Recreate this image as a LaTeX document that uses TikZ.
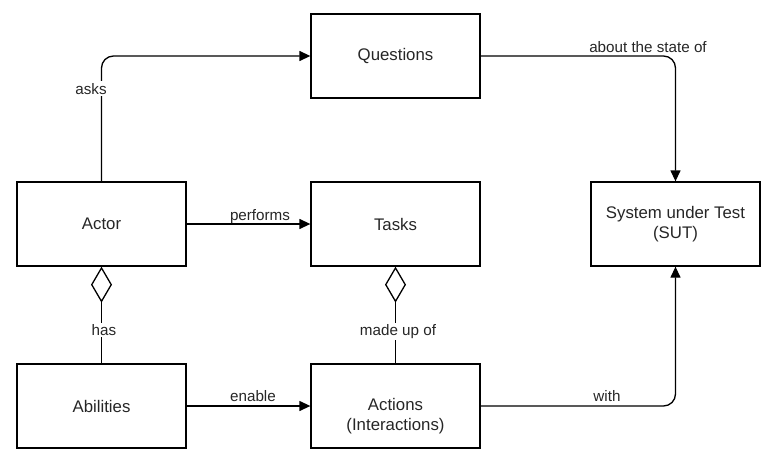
\documentclass[tikz,border=0pt]{standalone}
\usepackage{fontspec}
\setmainfont{Liberation Sans}
\usetikzlibrary{arrows.meta}
\begin{document}
\begin{tikzpicture}[x=1pt,y=-1pt,
  box/.style={draw, line width=1.3pt, minimum width=169pt, minimum height=84pt,
    inner sep=0pt, align=center, text=black!85, font=\fontsize{16.8}{20}\selectfont},
  boxtext/.style={align=center, inner sep=0pt, text=black!85, font=\fontsize{16.8}{20}\selectfont},
  lbl/.style={anchor=base, inner sep=1.5pt, text=black!85, font=\fontsize{15.2}{18}\selectfont},
  wlbl/.style={lbl, fill=white},
  conn/.style={line width=1.3pt},
  arr/.style={conn, -{Triangle[length=11pt,width=10pt]}},
  agg/.style={conn, -{Diamond[open,length=36pt,width=21pt]}}]
\useasboundingbox (0,0) rectangle (777,466);
\node[box] (questions) at (395.5,56) {Questions};
\node[box] (actor) at (101.5,224) {Actor};
\node[box] (tasks) at (395.5,224) {Tasks};
\node[box] (sut) at (675.5,224) {System under Test\\(SUT)};
\node[box] (abilities) at (101.5,406) {Abilities};
\node[box] (actions) at (395.5,406) {};
\node[boxtext] (actionsText) at (395.5,416) {Actions\\(Interactions)};

\draw[arr, rounded corners=12pt] (actor.north) |- (questions.west);
\draw[arr, rounded corners=12pt] (questions.east) -| (sut.north);
\draw[arr] (actor.east) -- (tasks.west);
\draw[arr] (abilities.east) -- (actions.west);
\draw[arr, rounded corners=12pt] (actions.east) -| (sut.south);
\draw[agg] (abilities.north) -- (actor.south);
\draw[agg] (actions.north) -- (tasks.south);

\node[wlbl] (asksL) at (91,94) {asks};
\node[lbl] (performsL) at (260,220) {performs};
\node[lbl] (aboutL) at (648,52.3) {about the state of};
\node[wlbl] (hasL) at (104,335.7) {has};
\node[wlbl] (madeL) at (398,335.7) {made up of};
\node[lbl] (enableL) at (253,401.7) {enable};
\node[lbl] (withL) at (607,401) {with};
\end{tikzpicture}
\end{document}
